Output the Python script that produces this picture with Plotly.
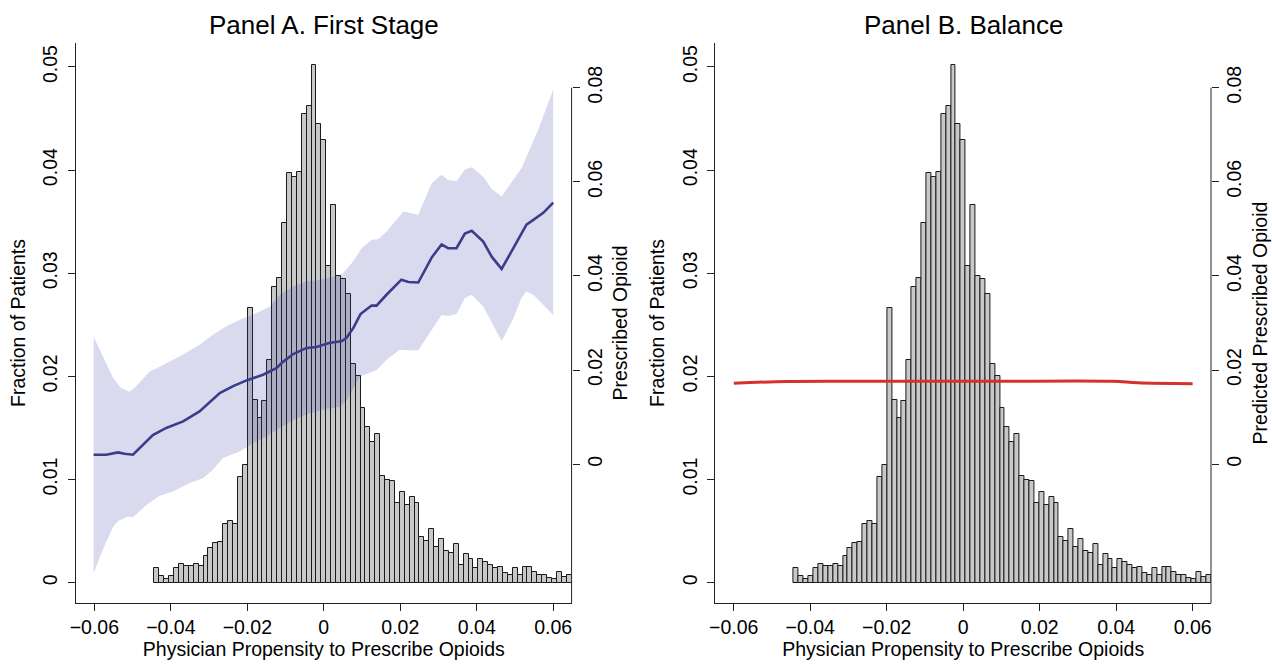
import numpy as np
import plotly.graph_objects as go

# ---------------- data ----------------
# histogram of physician propensity (fraction of patients per bin)
bin_start = -0.04428
bin_width = 0.0012833
hist_frac = [
    0.00139, 0.00062, 0.00039, 0.00068, 0.00139, 0.00184, 0.00162, 0.00158, 0.00181, 0.00162,
    0.00262, 0.00340, 0.00382, 0.00396, 0.00572, 0.00600, 0.00572, 0.01020, 0.01140, 0.02665,
    0.01775, 0.01595, 0.01762, 0.02155, 0.02862, 0.02949, 0.03484, 0.03968, 0.03931, 0.03985,
    0.04542, 0.04626, 0.05020, 0.04442, 0.04292, 0.03066, 0.03661, 0.02976, 0.02946, 0.02799,
    0.02121, 0.02004, 0.01697, 0.01510, 0.01365, 0.01446, 0.01039, 0.00994, 0.00981, 0.00768,
    0.00884, 0.00755, 0.00826, 0.00774, 0.00439, 0.00403, 0.00516, 0.00342, 0.00423, 0.00305,
    0.00292, 0.00378, 0.00168, 0.00274, 0.00234, 0.00139, 0.00226, 0.00205, 0.00176, 0.00138,
    0.00156, 0.00090, 0.00077, 0.00146, 0.00077, 0.00150, 0.00148, 0.00106, 0.00071, 0.00078,
    0.00044, 0.00036, 0.00103, 0.00052, 0.00072,
]

# Panel A: first stage (prescribed opioid vs propensity)
fs_x = [-0.0602, -0.0569, -0.0538, -0.0521, -0.0499, -0.0473, -0.0447, -0.0412, -0.0368,
        -0.0325, -0.0298, -0.0272, -0.0237, -0.0202, -0.0159, -0.0124, -0.0106, -0.0080,
        -0.0045, -0.0019, 0.0016, 0.0046, 0.0059, 0.0077, 0.0096, 0.0125, 0.0138, 0.0164,
        0.0203, 0.0221, 0.0247, 0.0282, 0.0308, 0.0325, 0.0347, 0.0369, 0.0387, 0.0417,
        0.0439, 0.0465, 0.0495, 0.0530, 0.0548, 0.0574, 0.0600]
fs_y = [0.0020, 0.0020, 0.0025, 0.0022, 0.0020, 0.0041, 0.0062, 0.0077, 0.0091,
        0.0112, 0.0133, 0.0151, 0.0166, 0.0178, 0.0190, 0.0204, 0.0218, 0.0234,
        0.0247, 0.0249, 0.0258, 0.0261, 0.0268, 0.0289, 0.0319, 0.0337, 0.0337, 0.0360,
        0.0392, 0.0387, 0.0386, 0.0439, 0.0467, 0.0459, 0.0459, 0.0490, 0.0496, 0.0473,
        0.0441, 0.0415, 0.0458, 0.0509, 0.0519, 0.0534, 0.0556]

ci_up_x = [-0.0602, -0.0578, -0.0551, -0.0530, -0.0508, -0.0495, -0.0455, -0.0429, -0.0377,
           -0.0325, -0.0290, -0.0255, -0.0220, -0.0176, -0.0141, -0.0115, -0.0080, -0.0045,
           -0.0010, 0.0042, 0.0051, 0.0077, 0.0099, 0.0125, 0.0142, 0.0164, 0.0208, 0.0247,
           0.0282, 0.0308, 0.0325, 0.0347, 0.0369, 0.0387, 0.0417, 0.0439, 0.0465, 0.0517,
           0.0561, 0.0600]
ci_up_y = [0.0271, 0.0229, 0.0183, 0.0162, 0.0154, 0.0162, 0.0197, 0.0207, 0.0229,
           0.0254, 0.0275, 0.0293, 0.0307, 0.0321, 0.0335, 0.0360, 0.0378, 0.0388,
           0.0392, 0.0402, 0.0406, 0.0431, 0.0459, 0.0477, 0.0478, 0.0494, 0.0537, 0.0530,
           0.0597, 0.0615, 0.0604, 0.0601, 0.0626, 0.0631, 0.0611, 0.0585, 0.0569, 0.0629,
           0.0711, 0.0796]

ci_lo_x = [-0.0602, -0.0578, -0.0551, -0.0538, -0.0512, -0.0499, -0.0464, -0.0429, -0.0394,
           -0.0351, -0.0316, -0.0290, -0.0264, -0.0220, -0.0185, -0.0150, -0.0115, -0.0080,
           -0.0037, 0.0007, 0.0042, 0.0059, 0.0094, 0.0138, 0.0164, 0.0199, 0.0221, 0.0247,
           0.0282, 0.0308, 0.0325, 0.0347, 0.0369, 0.0387, 0.0417, 0.0439, 0.0465, 0.0495,
           0.0517, 0.0530, 0.0548, 0.0600]
ci_lo_y = [-0.0232, -0.0182, -0.0133, -0.0121, -0.0111, -0.0113, -0.0087, -0.0067, -0.0058,
           -0.0040, -0.0030, -0.0012, 0.0013, 0.0027, 0.0045, 0.0059, 0.0077, 0.0094,
           0.0108, 0.0117, 0.0122, 0.0135, 0.0186, 0.0200, 0.0222, 0.0243, 0.0242, 0.0242,
           0.0284, 0.0317, 0.0315, 0.0319, 0.0353, 0.0360, 0.0335, 0.0300, 0.0262, 0.0308,
           0.0353, 0.0367, 0.0360, 0.0317]

# Panel B: balance (predicted prescribed opioid)
bal_x = [-0.060, -0.046, -0.021, 0.0074, 0.039, 0.0456, 0.060]
bal_y = [0.0172, 0.01757, 0.0176, 0.0176, 0.0176, 0.0173, 0.0171]

x_ticks = [-0.06, -0.04, -0.02, 0, 0.02, 0.04, 0.06]
left_ticks = [0, 0.01, 0.02, 0.03, 0.04, 0.05]
right_ticks = [0, 0.02, 0.04, 0.06, 0.08]

# ---------------- figure ----------------
FONT = "Liberation Sans, Arial, Helvetica, sans-serif"
TICKF = dict(family=FONT, size=19.5, color="black")
TITLEF = dict(family=FONT, size=19.5, color="black")
centers = bin_start + bin_width * (np.arange(len(hist_frac)) + 0.5)

bar_style = dict(marker=dict(color="rgb(200,200,200)", line=dict(color="#1a1a1a", width=1)),
                 width=bin_width, hoverinfo="skip", showlegend=False)

fig = go.Figure()
# Panel A
fig.add_trace(go.Bar(x=centers, y=hist_frac, xaxis="x", yaxis="y", **bar_style))
fig.add_trace(go.Scatter(x=ci_up_x + ci_lo_x[::-1], y=ci_up_y + ci_lo_y[::-1],
                         fill="toself", fillcolor="rgba(60,60,170,0.19)",
                         line=dict(width=0), mode="lines", xaxis="x", yaxis="y2",
                         hoverinfo="skip", showlegend=False))
fig.add_trace(go.Scatter(x=fs_x, y=fs_y, mode="lines",
                         line=dict(color="#393d8c", width=2.6), xaxis="x", yaxis="y2",
                         showlegend=False))
# Panel B
fig.add_trace(go.Bar(x=centers, y=hist_frac, xaxis="x2", yaxis="y3", **bar_style))
fig.add_trace(go.Scatter(x=bal_x, y=bal_y, mode="lines",
                         line=dict(color="#d6302a", width=3, shape="spline"),
                         xaxis="x2", yaxis="y4", showlegend=False))

XR = [-0.0648, 0.0648]
YL = [-0.00197, 0.05232]
YR = [-0.0295, 0.0895]

def xax(domain, anchor):
    return dict(domain=domain, anchor=anchor, range=XR, tickvals=x_ticks,
                ticks="outside", ticklen=7, tickwidth=1, tickcolor="#222",
                showline=True, linecolor="#222", linewidth=1, showgrid=False,
                zeroline=False, tickfont=TICKF, ticklabelstandoff=0,
                title=dict(text="Physician Propensity to Prescribe Opioids",
                           font=TITLEF, standoff=4))

def yleft(anchor):
    return dict(anchor=anchor, domain=[0, 1], range=YL, tickvals=left_ticks,
                ticks="outside", ticklen=7, tickwidth=1, tickcolor="#222",
                showline=True, linecolor="#222", linewidth=1, showgrid=False,
                zeroline=False, tickfont=TICKF, tickangle=-90, ticklabelstandoff=3,
                title=dict(text="Fraction of Patients", font=TITLEF, standoff=8))

def yright(anchor, overlay, text):
    return dict(anchor=anchor, overlaying=overlay, side="right", range=YR,
                tickvals=right_ticks, ticks="outside", ticklen=7, tickwidth=1,
                tickcolor="#222", showline=False, showgrid=False, zeroline=False,
                tickfont=TICKF, tickangle=-90, ticklabelstandoff=-1,
                title=dict(text=text, font=TITLEF, standoff=8))

dA = [0, 0.43664]
dB = [0.56336, 1]

fig.update_layout(
    width=1288, height=684, autosize=False,
    margin=dict(l=76, r=77, t=43, b=81, pad=0),
    paper_bgcolor="white", plot_bgcolor="white",
    barmode="overlay", bargap=0,
    font=dict(family=FONT, color="black"),
    xaxis=xax(dA, "y"),
    yaxis=yleft("x"),
    yaxis2=yright("x", "y", "Prescribed Opioid"),
    xaxis2=xax(dB, "y3"),
    yaxis3=yleft("x2"),
    yaxis4=yright("x2", "y3", "Predicted Prescribed Opioid"),
    shapes=[
        dict(type="line", xref="x domain", x0=1, x1=1, yref="y2", y0=YR[0], y1=0.08,
             line=dict(color="#222", width=1)),
        dict(type="line", xref="x2 domain", x0=1, x1=1, yref="y4", y0=YR[0], y1=0.08,
             line=dict(color="#222", width=1)),
    ],
    annotations=[
        dict(text="Panel A. First Stage", xref="paper", yref="paper",
             x=(dA[0] + dA[1]) / 2, y=1.032, xanchor="center", yanchor="middle",
             showarrow=False, font=dict(family=FONT, size=26, color="black")),
        dict(text="Panel B. Balance", xref="paper", yref="paper",
             x=(dB[0] + dB[1]) / 2, y=1.032, xanchor="center", yanchor="middle",
             showarrow=False, font=dict(family=FONT, size=26, color="black")),
    ],
)

fig.write_html("out.html",
               config={"responsive": False, "displayModeBar": False},
               post_script="document.body.style.margin='0';")
